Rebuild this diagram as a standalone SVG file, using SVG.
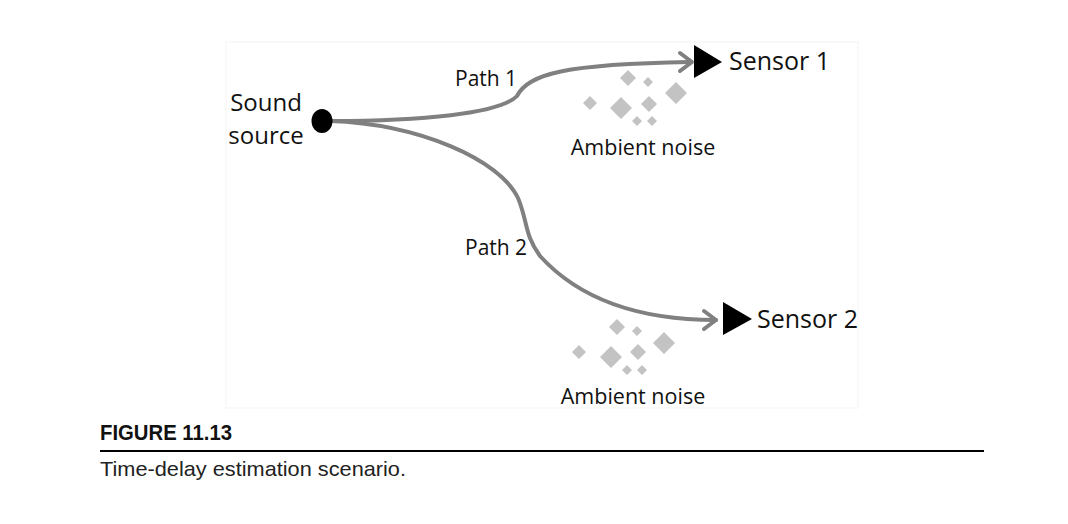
<svg xmlns="http://www.w3.org/2000/svg" width="1068" height="524" viewBox="0 0 1068 524">
<defs>
<style>
.lbl{font-family:"Open Sans","Liberation Sans",sans-serif;fill:#111;}
.conn{fill:none;stroke:#808080;stroke-width:4;stroke-linecap:round;}
.dia{fill:#c3c3c3;}
.sensor{fill:#000;}
</style>
</defs>
<rect width="1068" height="524" fill="#fff"/>
<rect x="226" y="42" width="632" height="366" fill="none" stroke="#f3f3f3" stroke-width="1"/>
<g id="connectors">
<path class="conn" d="M330,121 C420,121 500,114 517,96 C528,74 565,64 690,62"/>
<path class="conn" d="M330,121 C420,124 500,160 518,198 C528,222 524,234 540,256 C580,300 640,320 716,320"/>
<path d="M680,53 L692,62 L680,71" fill="none" stroke="#808080" stroke-width="4" stroke-linecap="round" stroke-linejoin="round"/>
<path d="M704,311 L716,320 L704,329" fill="none" stroke="#808080" stroke-width="4" stroke-linecap="round" stroke-linejoin="round"/>
</g>
<g id="sound-source">
<ellipse cx="322" cy="121" rx="10.5" ry="12" fill="#000"/>
<text class="lbl" x="266" y="111" font-size="24" text-anchor="middle">Sound</text>
<text class="lbl" x="266" y="144" font-size="24" text-anchor="middle">source</text>
</g>
<g id="sensor-1">
<polygon class="sensor" points="694,45 722,62 694,78"/>
<text class="lbl" x="729" y="70" font-size="25">Sensor 1</text>
</g>
<g id="sensor-2">
<polygon class="sensor" points="723,302 752,319 723,335"/>
<text class="lbl" x="757" y="328" font-size="25">Sensor 2</text>
</g>
<g id="path-labels">
<text class="lbl" x="455" y="86" font-size="21">Path 1</text>
<text class="lbl" x="465" y="255" font-size="21">Path 2</text>
</g>
<g id="noise-1">
<path class="dia" d="M628,70 l8,8 l-8,8 l-8,-8z M648,77 l5,5 l-5,5 l-5,-5z M676,82 l11,11 l-11,11 l-11,-11z M590,96 l7,7 l-7,7 l-7,-7z M621,97 l11,11 l-11,11 l-11,-11z M649,96 l8,8 l-8,8 l-8,-8z M637,116 l5,5 l-5,5 l-5,-5z M652,116 l5,5 l-5,5 l-5,-5z"/>
<text class="lbl" x="643" y="155" font-size="21.5" text-anchor="middle">Ambient noise</text>
</g>
<g id="noise-2">
<path class="dia" d="M617,319 l8,8 l-8,8 l-8,-8z M637,326 l5,5 l-5,5 l-5,-5z M664,332 l11,11 l-11,11 l-11,-11z M579,345 l7,7 l-7,7 l-7,-7z M611,346 l11,11 l-11,11 l-11,-11z M638,344 l8,8 l-8,8 l-8,-8z M627,365 l5,5 l-5,5 l-5,-5z M642,365 l5,5 l-5,5 l-5,-5z"/>
<text class="lbl" x="633" y="404" font-size="21.5" text-anchor="middle">Ambient noise</text>
</g>
<g id="caption">
<text x="100" y="440" font-family="'Liberation Sans Narrow','Liberation Sans',sans-serif" font-weight="bold" font-size="22" fill="#111" textLength="132" lengthAdjust="spacingAndGlyphs">FIGURE 11.13</text>
<line x1="100" y1="451" x2="984" y2="451" stroke="#000" stroke-width="2"/>
<text x="100" y="476" font-family="'Liberation Sans Narrow','Liberation Sans',sans-serif" font-size="21" fill="#222" textLength="306" lengthAdjust="spacingAndGlyphs">Time-delay estimation scenario.</text>
</g>
</svg>
